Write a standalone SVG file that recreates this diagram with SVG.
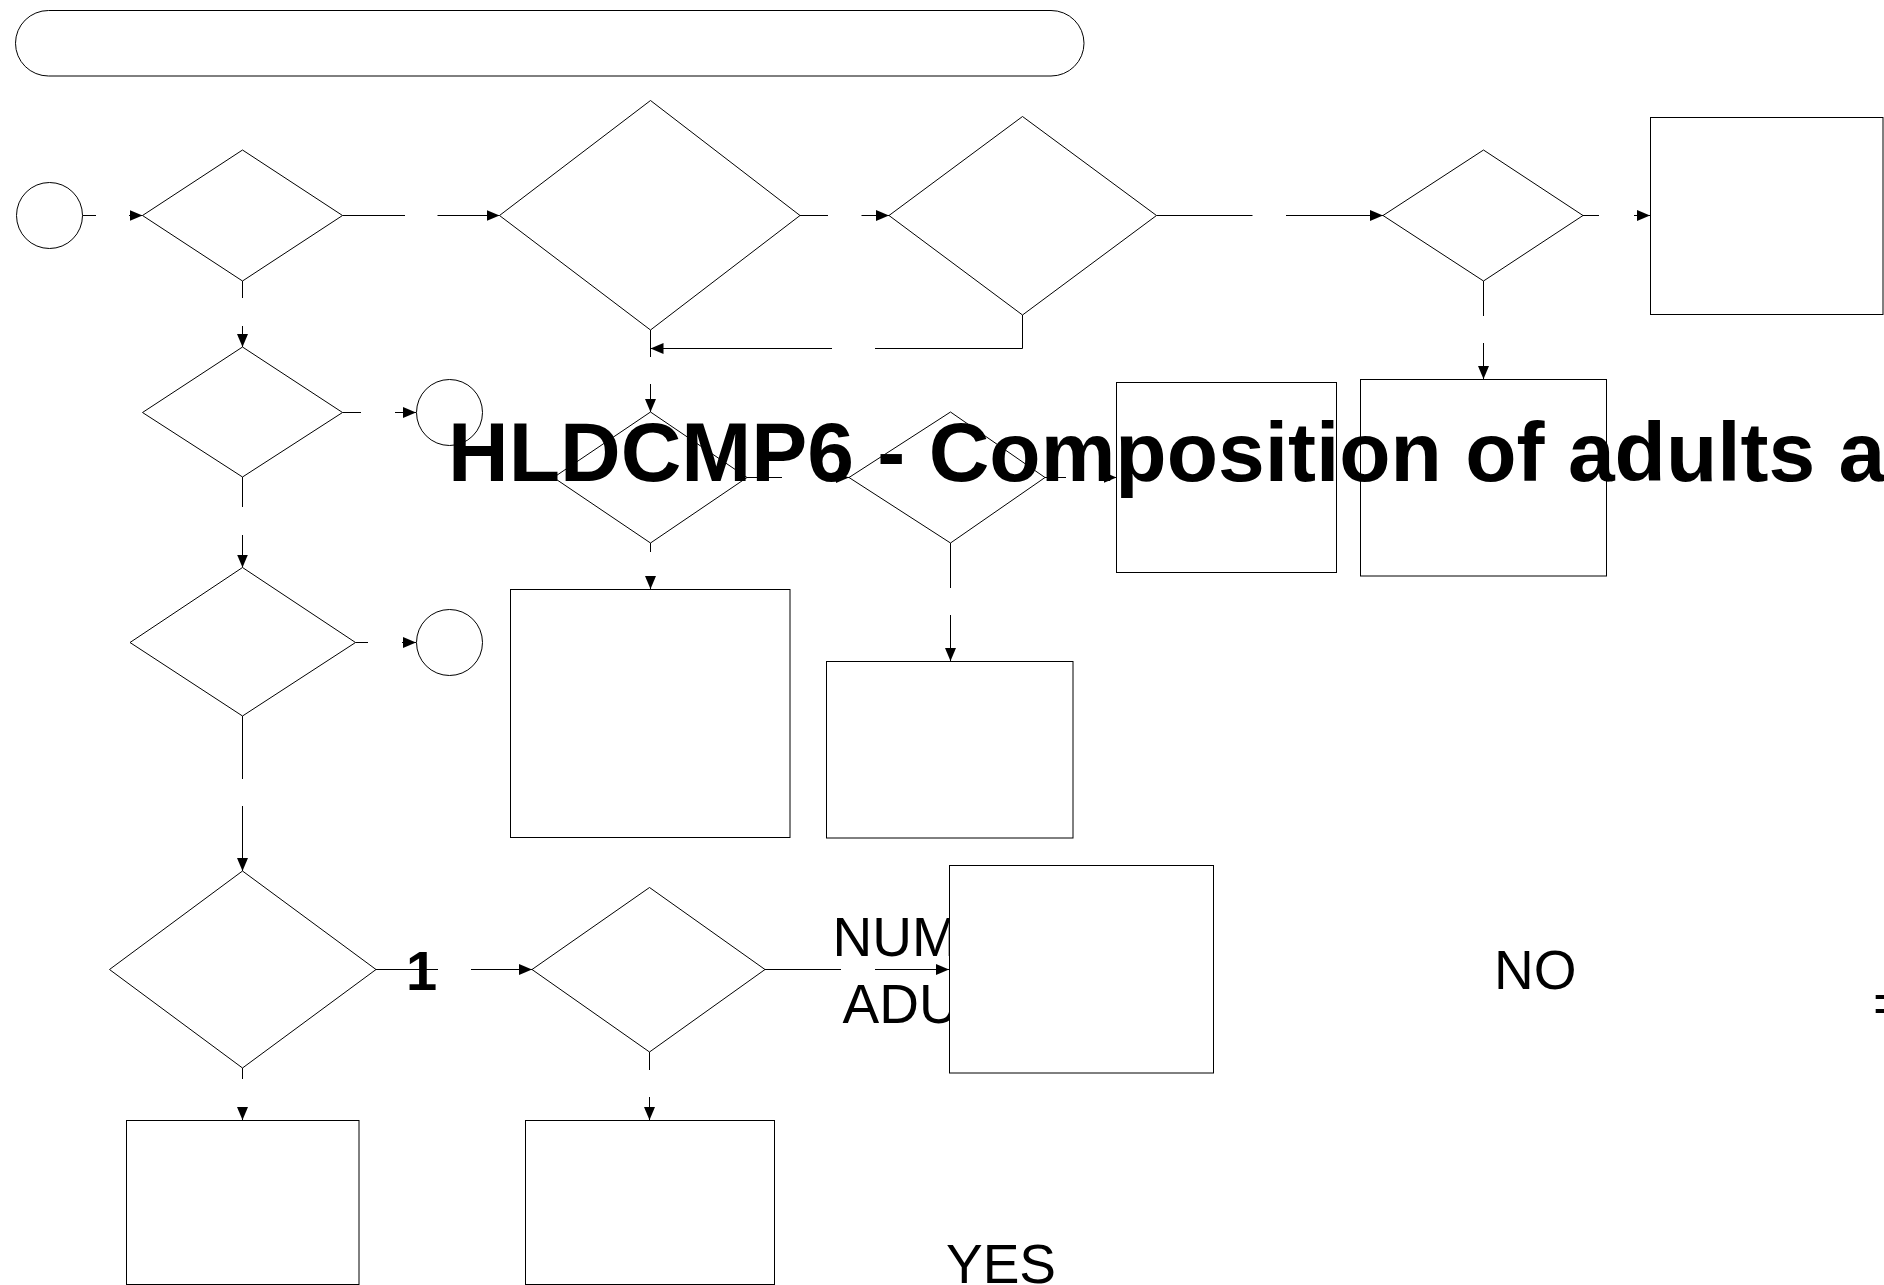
<svg xmlns="http://www.w3.org/2000/svg" width="1884" height="1285" viewBox="0 0 1884 1285">
<style>
.s{fill:#fff;stroke:#000;stroke-width:1}
.c{fill:none;stroke:#000;stroke-width:1}
.t{font-family:"Liberation Sans",Arial,sans-serif;font-size:55px;fill:#000}
.b{font-family:"Liberation Sans",Arial,sans-serif;font-weight:bold;fill:#000}
</style>
<defs>
<marker id="ah" markerUnits="userSpaceOnUse" markerWidth="14" markerHeight="12" refX="13" refY="5.5" orient="auto">
<path d="M0,0 L13,5.5 L0,11 z" fill="#000"/>
</marker>
</defs>
<rect width="1884" height="1285" fill="#fff"/>
<g id="connectors">
<path class="c" d="M82.5,215.5 H96"/>
<path class="c" d="M129,215.5 H142.5" marker-end="url(#ah)"/>
<path class="c" d="M342.5,215.5 H405"/>
<path class="c" d="M437.5,215.5 H499.5" marker-end="url(#ah)"/>
<path class="c" d="M800,215.5 H828"/>
<path class="c" d="M861.5,215.5 H889" marker-end="url(#ah)"/>
<path class="c" d="M1156.5,215.5 H1252.5"/>
<path class="c" d="M1286,215.5 H1383" marker-end="url(#ah)"/>
<path class="c" d="M1583,215.5 H1599"/>
<path class="c" d="M1634,215.5 H1650" marker-end="url(#ah)"/>
<path class="c" d="M1483.5,281 V316"/>
<path class="c" d="M1483.5,343 V379" marker-end="url(#ah)"/>
<path class="c" d="M1022.5,315 V348.5 H875"/>
<path class="c" d="M832,348.5 H650.5" marker-end="url(#ah)"/>
<path class="c" d="M650.5,330 V357"/>
<path class="c" d="M650.5,384 V412" marker-end="url(#ah)"/>
<path class="c" d="M242.5,281 V298"/>
<path class="c" d="M242.5,326 V347" marker-end="url(#ah)"/>
<path class="c" d="M342.5,412.5 H361"/>
<path class="c" d="M395,412.5 H416" marker-end="url(#ah)"/>
<path class="c" d="M747,477.5 H782"/>
<path class="c" d="M836,477.5 H849" marker-end="url(#ah)"/>
<path class="c" d="M1045,477.5 H1066"/>
<path class="c" d="M1100,477.5 H1116.5" marker-end="url(#ah)"/>
<path class="c" d="M242.5,477 V507"/>
<path class="c" d="M242.5,535 V567.5" marker-end="url(#ah)"/>
<path class="c" d="M355.5,642.5 H368"/>
<path class="c" d="M402,642.5 H416" marker-end="url(#ah)"/>
<path class="c" d="M650.5,543 V552"/>
<path class="c" d="M650.5,578 V589" marker-end="url(#ah)"/>
<path class="c" d="M950.5,543 V588"/>
<path class="c" d="M950.5,615 V661" marker-end="url(#ah)"/>
<path class="c" d="M242.5,716 V779"/>
<path class="c" d="M242.5,806 V871" marker-end="url(#ah)"/>
<path class="c" d="M376,969.5 H438"/>
<path class="c" d="M471,969.5 H532" marker-end="url(#ah)"/>
<path class="c" d="M765,969.5 H841"/>
<path class="c" d="M875,969.5 H949" marker-end="url(#ah)"/>
<path class="c" d="M242.5,1068 V1079"/>
<path class="c" d="M242.5,1107 V1120" marker-end="url(#ah)"/>
<path class="c" d="M649.5,1052 V1070"/>
<path class="c" d="M649.5,1097 V1120" marker-end="url(#ah)"/>
</g>
<g id="hidden-labels">
<text class="t" x="832.5" y="956">NUM</text>
<text class="t" x="842.5" y="1022.5">ADU</text>
</g>
<g id="header"><rect class="s" x="15.5" y="10.5" width="1068.5" height="65.5" rx="33" ry="33"/></g>
<g id="start"><circle class="s" cx="49.5" cy="215.5" r="33"/></g>
<g id="d1"><polygon class="s" points="142.5,215.5 242.5,150 342.5,215.5 242.5,281"/></g>
<g id="d2"><polygon class="s" points="499.5,215.5 650.5,100.5 800,215.5 650.5,330"/></g>
<g id="d3"><polygon class="s" points="889,215.5 1022.5,116.5 1156.5,215.5 1022.5,315"/></g>
<g id="d7"><polygon class="s" points="1383,215.5 1483.5,150 1583,215.5 1483.5,281"/></g>
<g id="rectC"><rect class="s" x="1650.5" y="117.5" width="232.5" height="197"/></g>
<g id="d4"><polygon class="s" points="142.5,412.5 242.5,347 342.5,412.5 242.5,477"/></g>
<g id="end2"><circle class="s" cx="449.5" cy="412.5" r="33"/></g>
<g id="d5"><polygon class="s" points="553.5,477.5 650.5,412 747,477.5 650.5,543"/></g>
<g id="d6"><polygon class="s" points="849,477.5 950.5,412 1045,477.5 950.5,543"/></g>
<g id="rectA"><rect class="s" x="1116.5" y="382.5" width="220" height="190"/></g>
<g id="rectB"><rect class="s" x="1360.5" y="379.5" width="246" height="196.5"/></g>
<g id="d8"><polygon class="s" points="130,642.5 242.5,567.5 355.5,642.5 242.5,716"/></g>
<g id="end3"><circle class="s" cx="449.5" cy="642.5" r="33"/></g>
<g id="rectD"><rect class="s" x="510.5" y="589.5" width="279.5" height="248"/></g>
<g id="rectE"><rect class="s" x="826.5" y="661.5" width="246.5" height="176.5"/></g>
<g id="d9"><polygon class="s" points="109.5,969.5 242.5,871 376,969.5 242.5,1068"/></g>
<g id="d10"><polygon class="s" points="532,969.5 649.5,887.5 765,969.5 649.5,1052"/></g>
<g id="rectF"><rect class="s" x="949.5" y="865.5" width="264" height="207.5"/></g>
<g id="rectG"><rect class="s" x="126.5" y="1120.5" width="232.5" height="164"/></g>
<g id="rectH"><rect class="s" x="525.5" y="1120.5" width="249" height="164"/></g>
<g id="labels">
<text class="b" x="406" y="990" font-size="56">1</text>
<text class="t" x="1494" y="989">NO</text>
<text class="t" x="946" y="1283">YES</text>
<text class="t" x="1873" y="1022">=</text>
</g>
<g id="title">
<text class="b" x="448" y="481" font-size="84">HLDCMP6 - Composition of adults a</text>
</g>
</svg>
